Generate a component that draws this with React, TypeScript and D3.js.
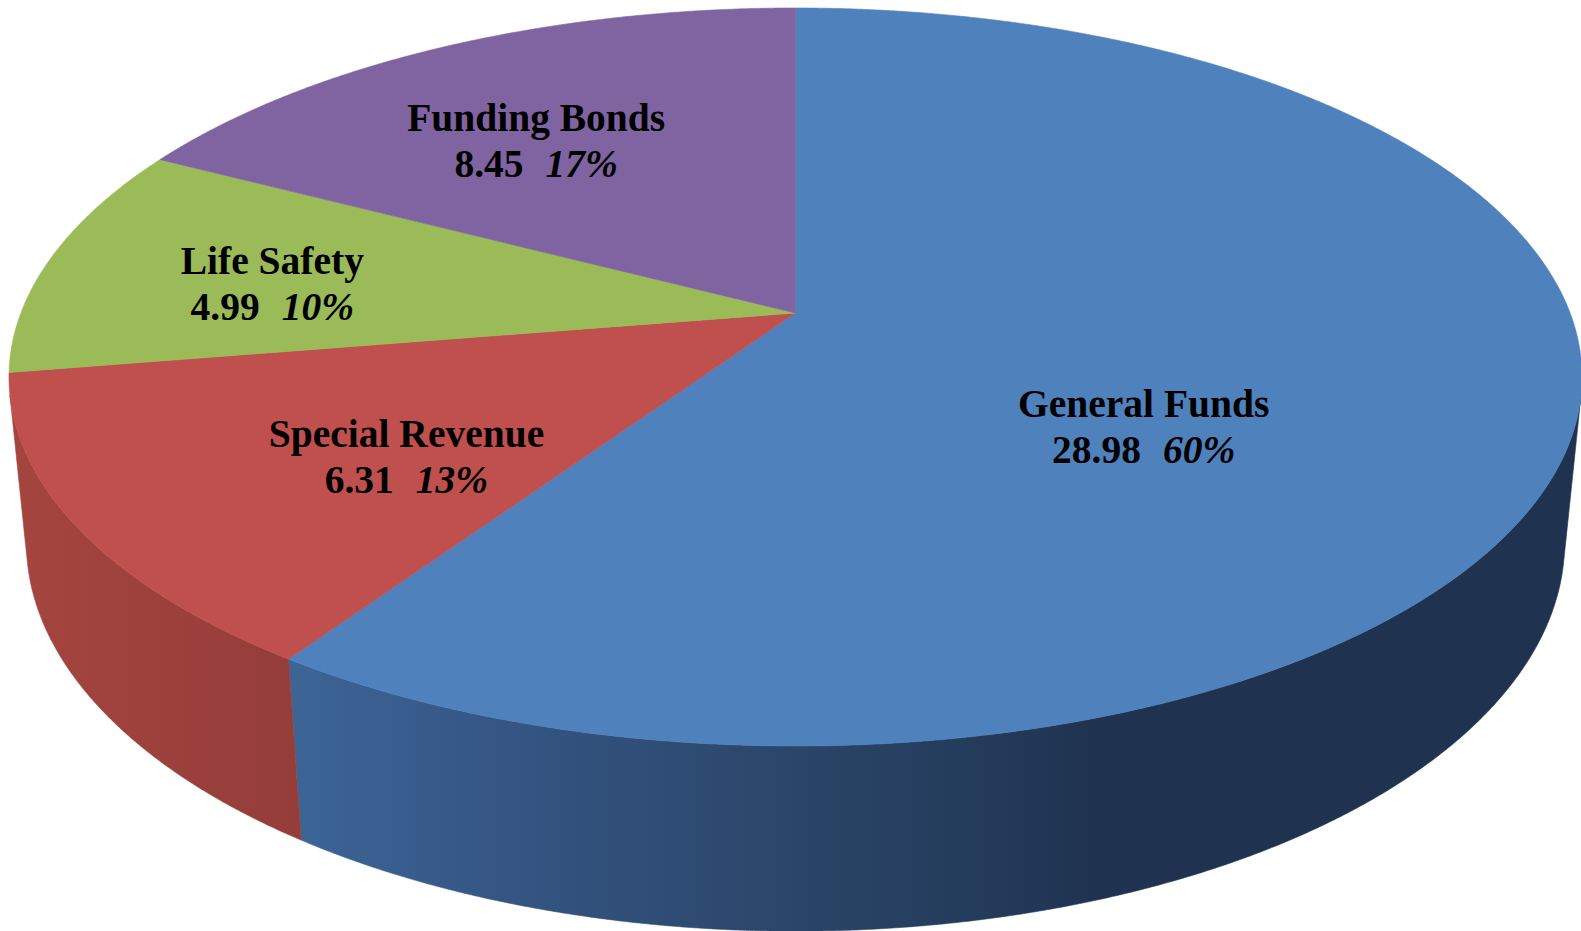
import React from 'react';
import * as d3 from 'd3';

// ---- data ----
const categories = ['General Funds', 'Special Revenue', 'Life Safety', 'Funding Bonds'];
const values = [28.98, 6.31, 4.99, 8.45];
const valueLabels = ['28.98', '6.31', '4.99', '8.45'];
const percentLabels = ['60%', '13%', '10%', '17%'];

// ---- styles ----
const topColors = ['#4F81BD', '#C0504D', '#9BBB59', '#8064A2'];
const sideStops: [number, string][][] = [
  [[290, '#3C6595'], [450, '#37598A'], [600, '#31507A'], [800, '#2A4568'], [950, '#253D5D'], [1100, '#1F3350'], [1581, '#1F3350']],
  [[0, '#A6453F'], [300, '#943D39']],
  [[0, '#7D9647'], [300, '#6E853E']],
  [[0, '#665081'], [300, '#594671']],
];
// label placement in the pie's plane: radius fraction and angle shift (deg) from slice middle
const labelRadius = [0.522, 0.6015, 0.69, 0.638];
const labelShift = [18.25, -6.1, -2.3, -3.7];

// ---- projection (perspective 3D pie) ----
const W = 1581;
const H = 931;
const cx = 795.5;
const cy = 313;
const alpha = (27.52 * Math.PI) / 180;
const sinA = Math.sin(alpha);
const cosA = Math.cos(alpha);
const D = 5.1145;
const F = 3961.7;
const depthH = 0.2425;

function project(theta: number, r: number, y: number): [number, number] {
  const x = r * Math.sin(theta);
  const z = -r * Math.cos(theta);
  const depth = D - y * sinA - z * cosA;
  return [cx + (F * x) / depth, cy - (F * (y * cosA - z * sinA)) / depth];
}

function arcPoints(a: number, b: number, y: number): [number, number][] {
  const step = Math.PI / 720;
  const n = Math.max(2, Math.ceil(Math.abs(b - a) / step));
  const pts: [number, number][] = [];
  for (let i = 0; i <= n; i++) pts.push(project(a + ((b - a) * i) / n, 1, y));
  return pts;
}

export default function App() {
  const pie = d3.pie<number>().sort(null).value((d) => d);
  const arcs = pie(values);
  const line = d3.line();

  const tz = 1 / (D * cosA);
  const silL = Math.PI - Math.acos(tz);
  const silR = Math.PI + Math.acos(tz);

  const sides = arcs
    .map((a, i) => {
      const s = Math.max(a.startAngle, silL);
      const e = Math.min(a.endAngle, silR);
      if (e <= s) return null;
      const pts = [...arcPoints(s, e, 0), ...arcPoints(e, s, -depthH)];
      return { i, d: line(pts) + 'Z' };
    })
    .filter(Boolean) as { i: number; d: string }[];

  const tops = arcs.map((a, i) => {
    const pts = [project(0, 0, 0), ...arcPoints(a.startAngle, a.endAngle, 0)];
    return { i, d: line(pts) + 'Z' };
  });

  const labels = arcs.map((a, i) => {
    const mid = (a.startAngle + a.endAngle) / 2 + (labelShift[i] * Math.PI) / 180;
    const [x, y] = project(mid, labelRadius[i], 0);
    return { i, x, y };
  });

  const font = "'Liberation Serif', 'Times New Roman', serif";

  return (
    <svg
      width={W}
      height={H}
      viewBox={`0 0 ${W} ${H}`}
      style={{ position: 'fixed', left: 0, top: 0, background: '#fff' }}
    >
      <defs>
        {sideStops.map((stops, i) => {
          const x0 = stops[0][0];
          const x1 = stops[stops.length - 1][0];
          return (
            <linearGradient key={i} id={`side${i}`} gradientUnits="userSpaceOnUse" x1={x0} x2={x1} y1={0} y2={0}>
              {stops.map(([p, c], j) => (
                <stop key={j} offset={(p - x0) / (x1 - x0)} stopColor={c} />
              ))}
            </linearGradient>
          );
        })}
      </defs>
      {sides.map((s) => (
        <path key={`s${s.i}`} d={s.d} fill={`url(#side${s.i})`} stroke={`url(#side${s.i})`} strokeWidth={0.6} />
      ))}
      {tops.map((t) => (
        <path key={`t${t.i}`} d={t.d} fill={topColors[t.i]} stroke={topColors[t.i]} strokeWidth={0.6} />
      ))}
      {labels.map((l) => (
        <g key={`l${l.i}`} fontFamily={font} fontWeight="bold" fontSize={39.5} fill="#000" textAnchor="middle">
          <text x={l.x} y={l.y - 10}>{categories[l.i]}</text>
          <text x={l.x} y={l.y + 36}>
            <tspan>{valueLabels[l.i]}</tspan>
            <tspan dx={22} fontStyle="italic">{percentLabels[l.i]}</tspan>
          </text>
        </g>
      ))}
    </svg>
  );
}
